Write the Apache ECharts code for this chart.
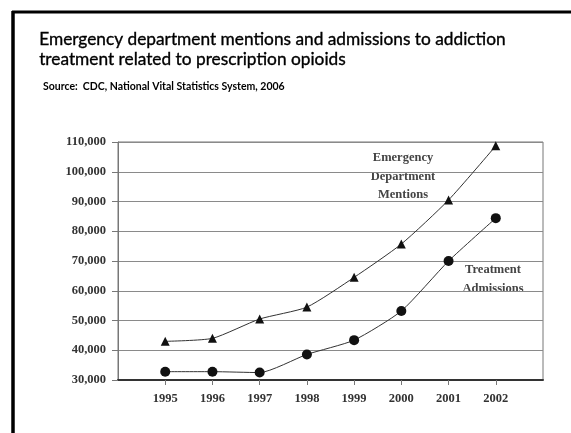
<!DOCTYPE html>
<html>
<head>
<meta charset="utf-8">
<script src="https://cdn.jsdelivr.net/npm/echarts@6/dist/echarts.min.js"></script>
<style>html,body{margin:0;padding:0;background:#fff}#c{width:571px;height:433px}</style>
</head>
<body>
<div id="c"></div>
<script>
var years = [1995, 1996, 1997, 1998, 1999, 2000, 2001, 2002];
var edMentions = [43000, 44000, 50500, 54500, 64500, 75700, 90500, 108700];
var treatmentAdmissions = [32800, 32800, 32500, 38600, 43400, 53200, 70000, 84400];
var yTicks = [30000, 40000, 50000, 60000, 70000, 80000, 90000, 100000, 110000];

var serif = '"Liberation Serif", "DejaVu Serif", serif';
function pairs(vals) { return years.map(function (y, i) { return [y, vals[i]]; }); }
function fmt(v) { return String(v).replace(/\B(?=(\d{3})+(?!\d))/g, ','); }

var chart = echarts.init(document.getElementById('c'), null, {renderer: 'canvas'});
chart.setOption({
  animation: false,
  backgroundColor: '#fff',
  grid: {left: 118, right: 28, top: 142, bottom: 53, show: true, borderColor: '#777', borderWidth: 1},
  xAxis: {
    type: 'value', min: years[0] - 1, max: years[years.length - 1] + 1, interval: 1,
    axisLine: {show: true, onZero: false, lineStyle: {color: '#333', width: 2}},
    axisTick: {show: true, length: 5, lineStyle: {color: '#777'}, customValues: years},
    axisLabel: {customValues: years, color: '#333', fontFamily: serif, fontWeight: 'bold', fontSize: 12.5, margin: 12, formatter: function (v) { return String(v); }},
    splitLine: {show: false}
  },
  yAxis: {
    type: 'value', min: yTicks[0], max: yTicks[yTicks.length - 1], interval: 10000,
    axisLine: {show: true, lineStyle: {color: '#777'}},
    axisTick: {show: true, length: 6, lineStyle: {color: '#777'}},
    axisLabel: {color: '#333', fontFamily: serif, fontWeight: 'bold', fontSize: 12.5, margin: 12, formatter: fmt},
    splitLine: {show: true, lineStyle: {color: '#8a8a8a', width: 1}}
  },
  series: [
    {name: 'Emergency Department Mentions', type: 'line', data: pairs(edMentions), smooth: 0.2,
     symbol: 'triangle', symbolSize: 9, lineStyle: {color: '#333', width: 1}, itemStyle: {color: '#111'}},
    {name: 'Treatment Admissions', type: 'line', data: pairs(treatmentAdmissions), smooth: 0.2,
     symbol: 'circle', symbolSize: 10, lineStyle: {color: '#333', width: 1}, itemStyle: {color: '#111'}}
  ],
  graphic: [
    {type: 'line', shape: {x1: 13, y1: 11, x2: 13, y2: 433}, style: {stroke: '#000', lineWidth: 3.5}},
    {type: 'line', shape: {x1: 12, y1: 12, x2: 571, y2: 12}, style: {stroke: '#000', lineWidth: 3}},
    {type: 'text', left: 39, top: 29, style: {text: 'Emergency department mentions and admissions to addiction\ntreatment related to prescription opioids', font: '17.3px Lato, "Noto Sans", sans-serif', fill: '#000', stroke: '#000', lineWidth: 0.35, lineHeight: 20}},
    {type: 'text', left: 43, top: 81, style: {text: 'Source:  CDC, National Vital Statistics System, 2006', font: 'bold 10.5px Lato, "Noto Sans", sans-serif', fill: '#000'}},
    {type: 'text', x: 403, y: 149, style: {text: 'Emergency\nDepartment\nMentions', font: 'bold 12.5px ' + serif, fill: '#444', align: 'center', lineHeight: 18.5}},
    {type: 'text', x: 493, y: 260, style: {text: 'Treatment\nAdmissions', font: 'bold 12.5px ' + serif, fill: '#444', align: 'center', lineHeight: 19}}
  ]
});
</script>
</body>
</html>
